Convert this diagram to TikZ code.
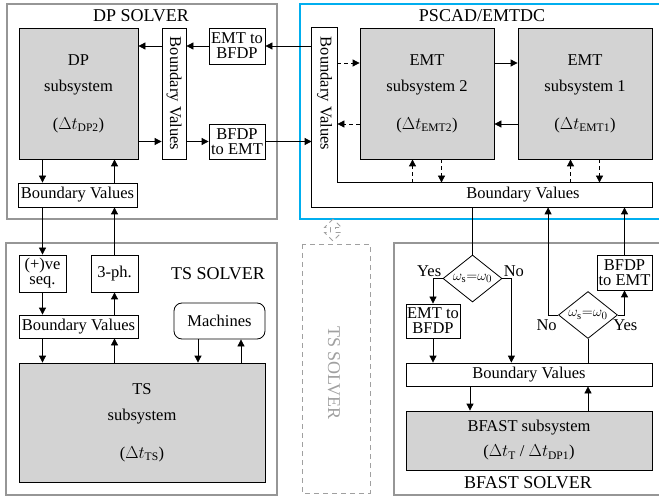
\documentclass[tikz,border=0pt]{standalone}
\usepackage{fontspec}
\setmainfont{Liberation Serif}
\usepackage{tikz}
\usetikzlibrary{arrows.meta, positioning, shapes.geometric, shapes.arrows}
\definecolor{pscadblue}{RGB}{0,174,239}
\definecolor{subgray}{RGB}{211,211,211}
\definecolor{solvergray}{RGB}{150,150,150}
\definecolor{ghostgray}{RGB}{160,160,160}
\tikzset{>={Triangle[length=7pt,width=7pt]},
    solver/.style={draw=solvergray, line width=1.6pt},
    emtdc/.style={draw=pscadblue, line width=1.6pt},
    ghost/.style={draw=ghostgray, line width=0.8pt, dash pattern=on 5pt off 4pt},
    subsys/.style={draw, fill=subgray, inner sep=0pt, align=center},
    bv/.style={draw, fill=white, inner sep=0pt, align=center},
    convbox/.style={bv, font=\fontsize{16.5}{15}\selectfont},
    check/.style={diamond, draw, fill=white, inner sep=0pt, aspect=1.25,
        minimum width=59pt, minimum height=47pt, font=\fontsize{15}{16}\selectfont},
    title/.style={font=\fontsize{18}{20}\selectfont},
    lbl/.style={inner sep=1pt},
    dashedarrow/.style={->, dash pattern=on 4pt off 3pt}}

\begin{document}
\begin{tikzpicture}
[x=1pt, y=-1pt, line width=0.8pt, align=center, font=\fontsize{16.5}{19}\selectfont]
\useasboundingbox (0,0) rectangle (659,497);
\draw[solver] (7,4) rectangle (277,219);
\draw[solver] (6,243) rectangle (277,495);
\draw[emtdc] (300,4) rectangle (668,219);
\draw[solver] (394,243) rectangle (668,495);
\draw[ghost] (302,244) rectangle (370,493);
\node[title] at (141,16) {DP SOLVER};
\node[title] at (482,16) {PSCAD/EMTDC};
\node[title] at (218,274) {TS SOLVER};
\node[title] at (528,483) {BFAST SOLVER};
\node[title, text=ghostgray, rotate=-90] at (334,373) {TS SOLVER};
\node[ghost, double arrow, rotate=90, inner sep=0pt, minimum height=22pt,
    minimum width=17pt, double arrow head extend=1pt] (link) at (333,230) {};

\node[subsys, minimum width=119pt, minimum height=131pt] (dp) at (78.5,93.5)
    {DP\\[7pt] subsystem\\[19pt] ($\Delta t_{\mathrm{DP2}}$)};
\node[bv, minimum width=24pt, minimum height=131pt,
    label={[rotate=-90]center:Boundary Values}] (dpbv) at (174,93.5) {};
\node[convbox, minimum width=56pt, minimum height=36pt] (dpe2b) at (237,46) {EMT to\\BFDP};
\node[convbox, minimum width=56pt, minimum height=35pt] (dpb2e) at (237,141.5) {BFDP\\to EMT};
\node[bv, minimum width=119pt, minimum height=24pt] (dpbvb) at (77.5,195) {Boundary Values};

\node[convbox, minimum width=47pt, minimum height=37pt] (seq) at (42.5,273.5) {(+)ve\\seq.};
\node[convbox, minimum width=47pt, minimum height=37pt] (ph) at (114.5,273.5) {3-ph.};
\node[bv, minimum width=119pt, minimum height=23pt] (tsbv) at (78.5,326.5) {Boundary Values};
\node[bv, rounded corners=8pt, minimum width=91pt, minimum height=36pt] (mach) at (219.5,321) {Machines};
\node[subsys, minimum width=246pt, minimum height=119pt] (ts) at (142,422.5)
    {TS\\[7pt] subsystem\\[19pt] ($\Delta t_{\mathrm{TS}}$)};

\node[bv, draw=none, fill=none, minimum width=25pt, minimum height=131pt,
    label={[rotate=-90]center:Boundary Values}] (emtbvv) at (324.5,93.5) {};
\node[bv, draw=none, fill=none, minimum width=340pt, minimum height=24pt,
    label={[xshift=41pt]center:Boundary Values}] (emtbvh) at (482,195) {};
\draw (emtbvv.north west) -- (emtbvv.north east) -- (emtbvv.east |- emtbvh.north)
    -- (emtbvh.north east) -- (emtbvh.south east) -- (emtbvh.south west) -- cycle;
\node[subsys, minimum width=134pt, minimum height=131pt] (emt2) at (427,93.5)
    {EMT\\[7pt] subsystem 2\\[19pt] ($\Delta t_{\mathrm{EMT2}}$)};
\node[subsys, minimum width=134pt, minimum height=131pt] (emt1) at (585,93.5)
    {EMT\\[7pt] subsystem 1\\[19pt] ($\Delta t_{\mathrm{EMT1}}$)};

\node[check] (chk1) at (472.5,278.5) {$\omega_{\mathrm{s}}{=}\omega_0$};
\node[check] (chk2) at (588,315) {$\omega_{\mathrm{s}}{=}\omega_0$};
\node[convbox, minimum width=54pt, minimum height=34pt] (bfe2b) at (433,321) {EMT to\\BFDP};
\node[convbox, minimum width=55pt, minimum height=35pt] (bfb2e) at (624.5,272.5) {BFDP\\to EMT};
\node[bv, minimum width=246pt, minimum height=23pt] (bfbv) at (529,374.5) {Boundary Values};
\node[subsys, minimum width=246pt, minimum height=59pt] (bfast) at (529,440.5)
    {BFAST subsystem\\[6pt] ($\Delta t_{\mathrm{T}}$ / $\Delta t_{\mathrm{DP1}}$)};
\node[lbl, anchor=south east] at (chk1.west) {Yes};
\node[lbl, anchor=south west] at (chk1.east) {No};
\node[lbl, anchor=north east, yshift=-3pt] at (chk2.west) {No};
\node[lbl, anchor=north west, xshift=-6pt, yshift=-3pt] at (chk2.east) {Yes};

\draw[->] (dpe2b.west) -- (dpe2b.west -| dpbv.east);
\draw[->] (dpe2b.west -| dpbv.west) -- (dpe2b.west -| dp.east);
\draw[->] (dpe2b.east -| emtbvv.west) -- (dpe2b.east);
\draw[->] (dpb2e.west -| dp.east) -- (dpb2e.west -| dpbv.west);
\draw[->] (dpb2e.west -| dpbv.east) -- (dpb2e.west);
\draw[->] (dpb2e.east) -- (dpb2e.east -| emtbvv.west);
\draw[->] (seq.north |- dp.south) -- (seq.north |- dpbvb.north);
\draw[->] (ph.north |- dpbvb.north) -- (ph.north |- dp.south);
\draw[->] (seq.north |- dpbvb.south) -- (seq.north);
\draw[->] (ph.north) -- (ph.north |- dpbvb.south);

\draw[->] (seq.south) -- (seq.south |- tsbv.north);
\draw[->] (tsbv.north -| ph.south) -- (ph.south);
\draw[->] (tsbv.south -| seq.south) -- (ts.north -| seq.south);
\draw[->] (ts.north -| ph.south) -- (tsbv.south -| ph.south);
\coordinate (mchin) at ([xshift=-21.5pt]mach.south);
\coordinate (mchout) at ([xshift=21.5pt]mach.south);
\draw[->] (mchin) -- (mchin |- ts.north);
\draw[->] (mchout |- ts.north) -- (mchout);

\coordinate (e2hi) at ([yshift=30.5pt]emt2.west);
\coordinate (e2lo) at ([yshift=-30.5pt]emt2.west);
\draw[dashedarrow] (e2hi -| emtbvv.east) -- (e2hi);
\draw[->] (emt2.east |- e2hi) -- (emt1.west |- e2hi);
\draw[->] (emt1.west |- e2lo) -- (emt2.east |- e2lo);
\draw[dashedarrow] (e2lo) -- (e2lo -| emtbvv.east);
\foreach \s in {emt2, emt1}{
    \coordinate (up) at ([xshift=-14.5pt]\s.south);
    \coordinate (dn) at ([xshift=14.5pt]\s.south);
    \draw[dashedarrow] (up |- emtbvh.north) -- (up);
    \draw[dashedarrow] (dn) -- (dn |- emtbvh.north);
}

\draw (chk1.north |- emtbvh.south) -- (chk1.north);
\draw[->] (chk1.west) -| (bfe2b.north);
\coordinate (no1) at ([xshift=9pt]chk1.east);
\draw[->] (chk1.east) -- (no1) -- (no1 |- bfbv.north);
\draw[->] (bfe2b.south) -- (bfe2b.south |- bfbv.north);
\coordinate (bfin) at ([xshift=-59pt]bfbv.south);
\draw[->] (bfin) -- (bfin |- bfast.north);
\draw[->] (bfast.north -| chk2.south) -- (bfbv.south -| chk2.south);
\draw (bfbv.north -| chk2.south) -- (chk2.south);
\coordinate (no2) at ([xshift=-10pt]chk2.west);
\draw[->] (chk2.west) -- (no2) -- (no2 |- emtbvh.south);
\draw[->] (chk2.east) -| (bfb2e.south);
\draw[->] (bfb2e.north) -- (bfb2e.north |- emtbvh.south);
\end{tikzpicture}
\end{document}
